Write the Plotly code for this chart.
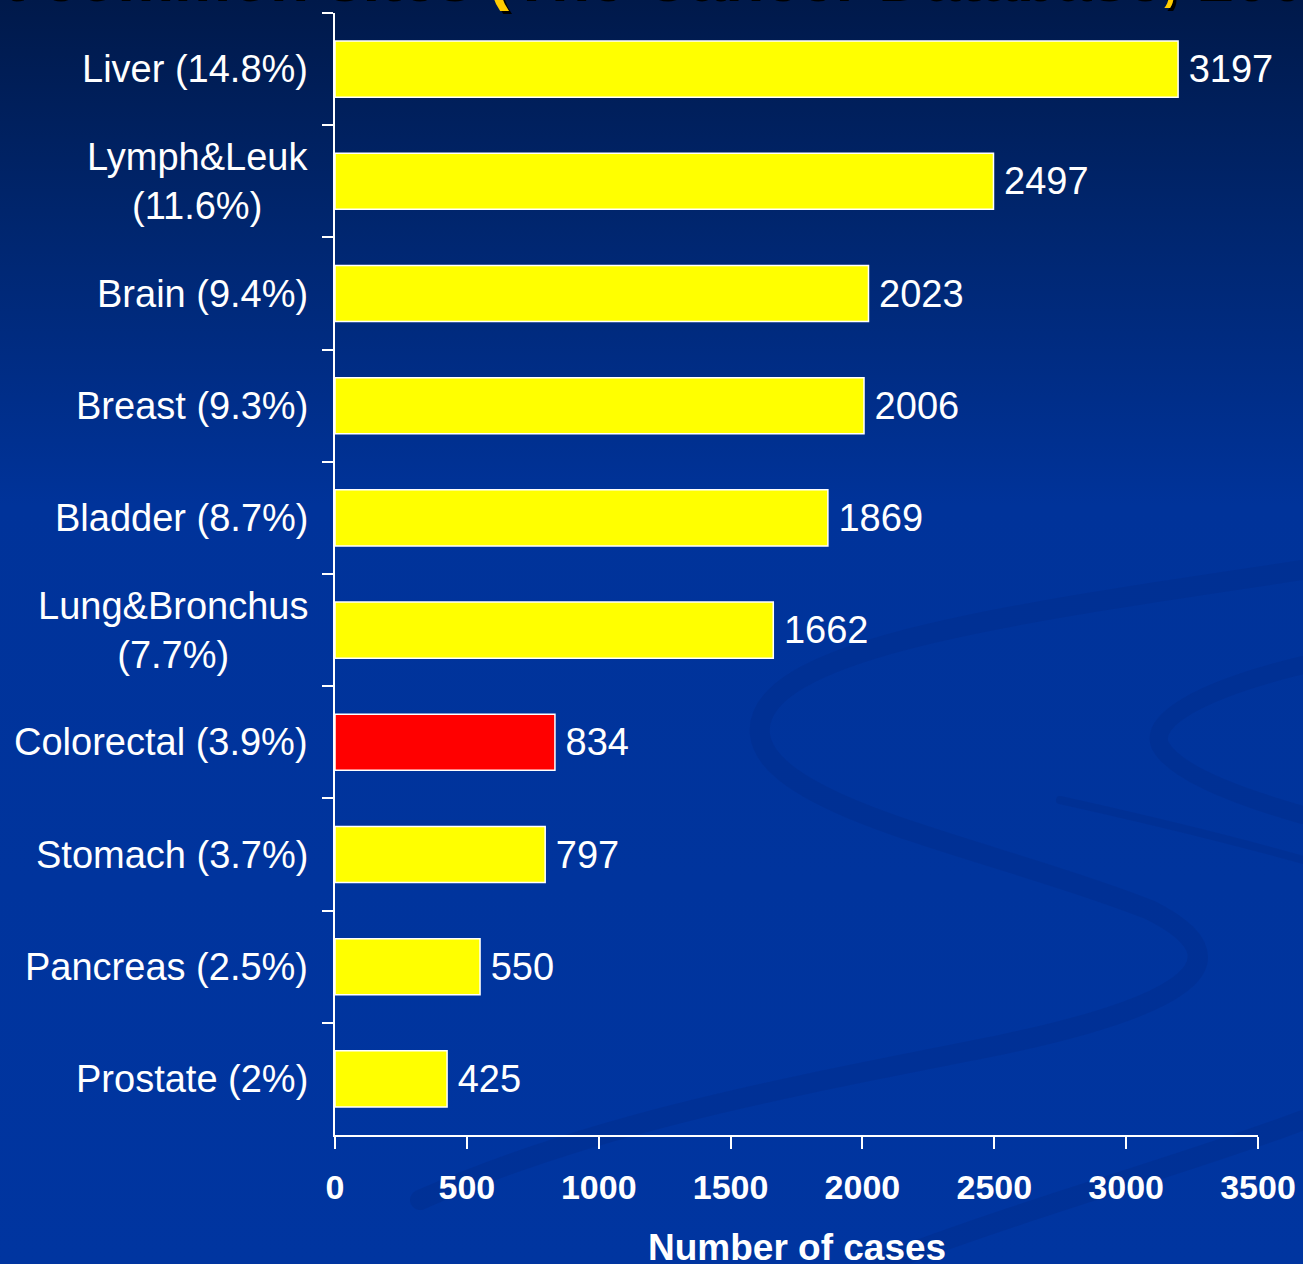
import plotly.graph_objects as go
import urllib.parse

# ---- data ----
categories = ["Liver (14.8%)", "Lymph&Leuk<br>(11.6%)", "Brain (9.4%)", "Breast (9.3%)",
              "Bladder (8.7%)", "Lung&Bronchus<br>(7.7%)", "Colorectal (3.9%)",
              "Stomach (3.7%)", "Pancreas (2.5%)", "Prostate (2%)"]
cases = [3197, 2497, 2023, 2006, 1869, 1662, 834, 797, 550, 425]
highlight = "Colorectal (3.9%)"
x_ticks = [0, 500, 1000, 1500, 2000, 2500, 3000, 3500]
title_text = "Ten most common sites (The Cancer Database, 2005)"
x_title = "Number of cases"

W, H = 1303, 1264
ML, MR, MT, MB = 335, 45, 13, 129
PW, PH = W - ML - MR, H - MT - MB
FONT = "Liberation Sans, Arial"

colors = ["#FF0000" if c == highlight else "#FFFF00" for c in categories]

fig = go.Figure(go.Bar(
    x=cases, y=categories, orientation="h",
    marker=dict(color=colors, line=dict(color="white", width=1.5)),
    width=0.5,
    text=["\u2009" + str(v) for v in cases], textposition="outside",
    textfont=dict(color="white", size=38, family=FONT),
    cliponaxis=False, constraintext="none",
))

# background svg (gradient + subtle swirls)
svg = f'''<svg xmlns="http://www.w3.org/2000/svg" width="{W}" height="{H}" viewBox="0 0 {W} {H}">
<defs><linearGradient id="g" x1="0" y1="0" x2="0" y2="1">
<stop offset="0" stop-color="#00194a"/><stop offset="0.18" stop-color="#00266f"/>
<stop offset="0.4" stop-color="#00339a"/><stop offset="1" stop-color="#0035a0"/></linearGradient></defs>
<rect width="{W}" height="{H}" fill="url(#g)"/>
<g fill="none" stroke="#002a88" stroke-opacity="0.35" stroke-linecap="round">
<path d="M1303,570 C1000,615 750,650 760,735 C770,810 1000,850 1150,910 C1250,960 1190,1005 1000,1045 C800,1085 600,1120 420,1200" stroke-width="20"/>
<path d="M1303,665 C1200,690 1150,720 1160,745 C1175,775 1250,800 1303,815" stroke-width="18"/>
<path d="M880,1264 C1050,1200 1200,1160 1303,1120" stroke-width="20"/>
<path d="M1060,800 C1150,820 1250,845 1303,860" stroke-width="8"/>
</g></svg>'''
uri = "data:image/svg+xml;charset=utf-8," + urllib.parse.quote(svg)

annotations = []
for c in categories:
    annotations.append(dict(
        x=0, xref="paper", xshift=-25, xanchor="right", align="center",
        y=c, yref="y", yanchor="middle", showarrow=False, text=c,
        font=dict(color="white", size=38, family=FONT),
    ))
annotations.append(dict(
    x=0, xref="paper", xshift=-595, xanchor="left", y=1, yref="paper", yshift=-1,
    yanchor="bottom", showarrow=False, text="<b>" + title_text + "</b>",
    font=dict(color="#FFCC00", size=64, family=FONT, shadow="3px 3px 0px #000000"),
))
annotations.append(dict(
    x=0.5, xref="paper", xanchor="center", y=0, yref="paper", yshift=-112,
    yanchor="middle", showarrow=False, text="<b>" + x_title + "</b>",
    font=dict(color="white", size=37, family=FONT),
))

fig.update_layout(
    width=W, height=H,
    margin=dict(l=ML, r=MR, t=MT, b=MB, autoexpand=False),
    paper_bgcolor="#0033a0", plot_bgcolor="rgba(0,0,0,0)",
    showlegend=False,
    images=[dict(source=uri, xref="paper", yref="paper",
                 x=-ML / PW, y=1 + MT / PH, sizex=W / PW, sizey=H / PH,
                 xanchor="left", yanchor="top", sizing="stretch", layer="below")],
    annotations=annotations,
    xaxis=dict(range=[0, 3500], tickvals=x_ticks, ticktext=[str(t) for t in x_ticks],
               showgrid=False, zeroline=False, showline=True, linecolor="white", linewidth=2,
               ticks="outside", ticklen=12, tickwidth=2, tickcolor="white",
               ticklabelstandoff=9, automargin=False,
               tickfont=dict(color="white", size=34, family=FONT, weight="bold")),
    yaxis=dict(categoryorder="array", categoryarray=categories, autorange="reversed",
               showticklabels=False, tickson="boundaries", ticks="outside", ticklen=11,
               tickwidth=2, tickcolor="white", showline=True, linecolor="white", linewidth=2,
               showgrid=False, zeroline=False, automargin=False),
)

fig.write_html("out.html", config={"displayModeBar": False},
               post_script="document.body.style.margin='0';")
